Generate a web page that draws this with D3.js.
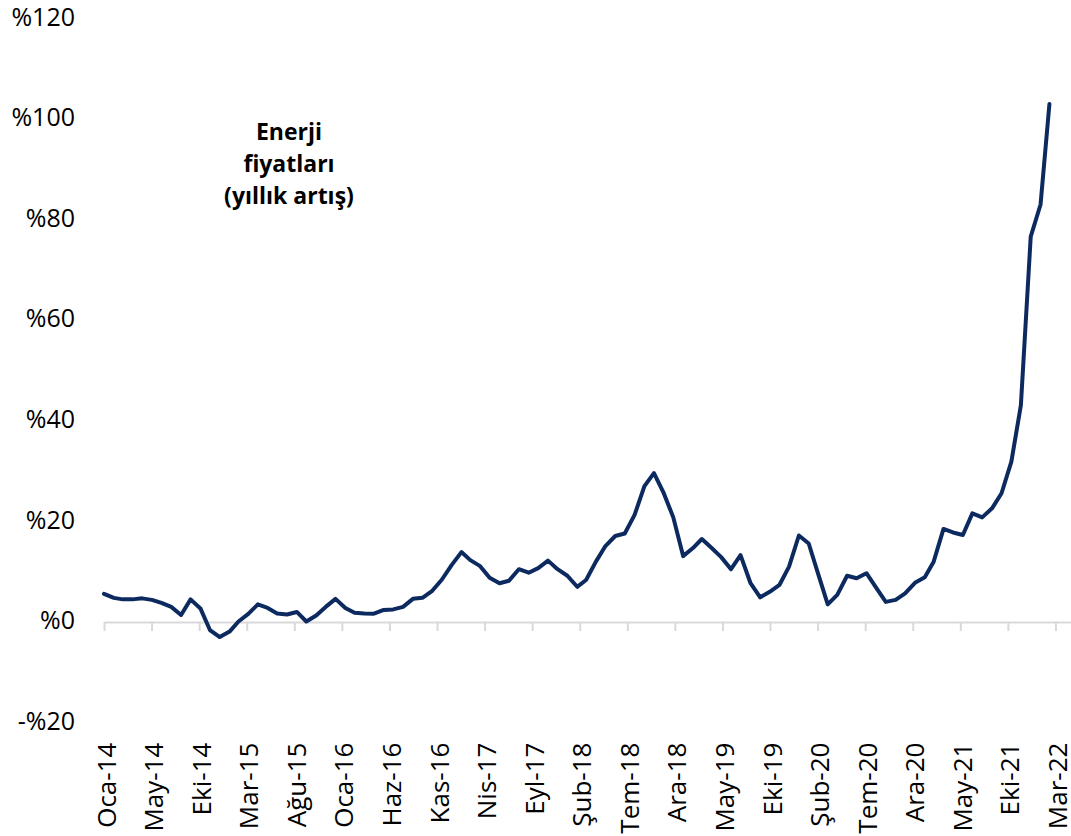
<!DOCTYPE html>
<html lang="tr">
<head>
<meta charset="utf-8">
<script src="https://cdn.jsdelivr.net/npm/d3@7"></script>
<style>
  html, body { margin: 0; padding: 0; background: #ffffff; }
  svg { display: block; font-family: "Open Sans", "Noto Sans", sans-serif; }
</style>
</head>
<body>
<svg id="chart" width="1071" height="836"></svg>
<script>
// Monthly series: energy prices, annual change (%), Jan 2014 – Mar 2022
const firstMonth = "2014-01";
const lastMonth = "2022-03";

const values2014 = [5.6, 4.8, 4.5, 4.5, 4.7, 4.4, 3.8, 3.0, 1.4, 4.5, 2.7, -1.6];
const values2015 = [-3.0, -1.9, 0.1, 1.6, 3.5, 2.8, 1.7, 1.5, 2.0, 0.1, 1.3, 3.0];
const values2016 = [4.6, 2.8, 1.85, 1.7, 1.65, 2.4, 2.5, 3.0, 4.6, 4.8, 6.2, 8.4];
const values2017 = [11.3, 13.9, 12.3, 11.1, 8.8, 7.7, 8.2, 10.5, 9.8, 10.7, 12.2, 10.5];
const values2018 = [9.2, 7.0, 8.35, 12.0, 15.1, 17.1, 17.6, 21.3, 27.0, 29.6, 25.6, 20.8];
const values2019 = [13.1, 14.7, 16.5, 14.7, 12.9, 10.5, 13.3, 7.8, 4.9, 6.0, 7.4, 11.0];
const values2020 = [17.2, 15.6, 9.7, 3.5, 5.4, 9.2, 8.7, 9.7, 6.8, 4.0, 4.4, 5.7];
const values2021 = [7.8, 8.9, 12.0, 18.5, 17.8, 17.3, 21.6, 20.8, 22.6, 25.6, 31.9, 43.1];
const values2022 = [76.6, 83.0, 103.0];

// Category axis labels, one every 150 days from the first month
const tickLabels = ["Oca-14", "May-14", "Eki-14", "Mar-15", "Ağu-15", "Oca-16", "Haz-16",
  "Kas-16", "Nis-17", "Eyl-17", "Şub-18", "Tem-18", "Ara-18", "May-19", "Eki-19",
  "Şub-20", "Tem-20", "Ara-20", "May-21", "Eki-21", "Mar-22"];
const tickStepDays = 150;

const yTicks = [-20, 0, 20, 40, 60, 80, 100, 120];
const titleLines = ["Enerji", "fiyatları", "(yıllık artış)"];

// ---- build series ----
const parseMonth = d3.utcParse("%Y-%m");
const start = parseMonth(firstMonth);
const months = d3.utcMonth.range(start, d3.utcMonth.offset(parseMonth(lastMonth), 1));
const allValues = [].concat(values2014, values2015, values2016, values2017,
  values2018, values2019, values2020, values2021, values2022);
const series = months.map((d, i) => ({ date: d, value: allValues[i] }));

const tickDates = tickLabels.map((_, i) => d3.utcDay.offset(start, i * tickStepDays));

// ---- scales ----
const svg = d3.select("#chart");
const x = d3.scaleUtc()
  .domain([start, d3.utcDay.offset(start, 3049)])
  .range([104, 1071]);
const y = d3.scaleLinear()
  .domain([-20, 120])
  .range([722.6, 18.4]);

// ---- x axis: zero line with downward ticks ----
const axisG = svg.append("g")
  .attr("transform", `translate(0,${y(0)})`)
  .call(d3.axisBottom(x).tickValues(tickDates).tickSize(9).tickSizeOuter(0).tickFormat(""));
axisG.select(".domain").attr("stroke", "#d9d9d9").attr("stroke-width", 2);
axisG.selectAll(".tick line").attr("stroke", "#d9d9d9").attr("stroke-width", 2);

// tick labels sit below the plot floor, rotated
svg.append("g")
  .selectAll("text")
  .data(tickDates)
  .join("text")
  .attr("transform", d => `translate(${x(d) + 2.5},${y(-20) + 20}) rotate(-90)`)
  .attr("text-anchor", "end")
  .attr("dy", "0.35em")
  .attr("font-size", 26)
  .attr("fill", "#000")
  .text((d, i) => tickLabels[i]);

// ---- y labels ----
svg.append("g")
  .selectAll("text")
  .data(yTicks)
  .join("text")
  .attr("x", 75)
  .attr("y", d => y(d))
  .attr("dy", "0.29em")
  .attr("text-anchor", "end")
  .attr("font-size", 25)
  .attr("fill", "#000")
  .text(d => (d < 0 ? "-%" : "%") + Math.abs(d));

// ---- line ----
const line = d3.line()
  .x(d => x(d.date))
  .y(d => y(d.value));
svg.append("path")
  .datum(series)
  .attr("fill", "none")
  .attr("stroke", "#0c2a5f")
  .attr("stroke-width", 4)
  .attr("stroke-linejoin", "round")
  .attr("stroke-linecap", "round")
  .attr("d", line);

// ---- title ----
svg.append("text")
  .attr("x", 289)
  .attr("y", 140)
  .attr("text-anchor", "middle")
  .attr("font-size", 23)
  .attr("font-weight", "bold")
  .attr("fill", "#000")
  .selectAll("tspan")
  .data(titleLines)
  .join("tspan")
  .attr("x", 289)
  .attr("dy", (d, i) => i === 0 ? 0 : 32)
  .text(d => d);
</script>
</body>
</html>
